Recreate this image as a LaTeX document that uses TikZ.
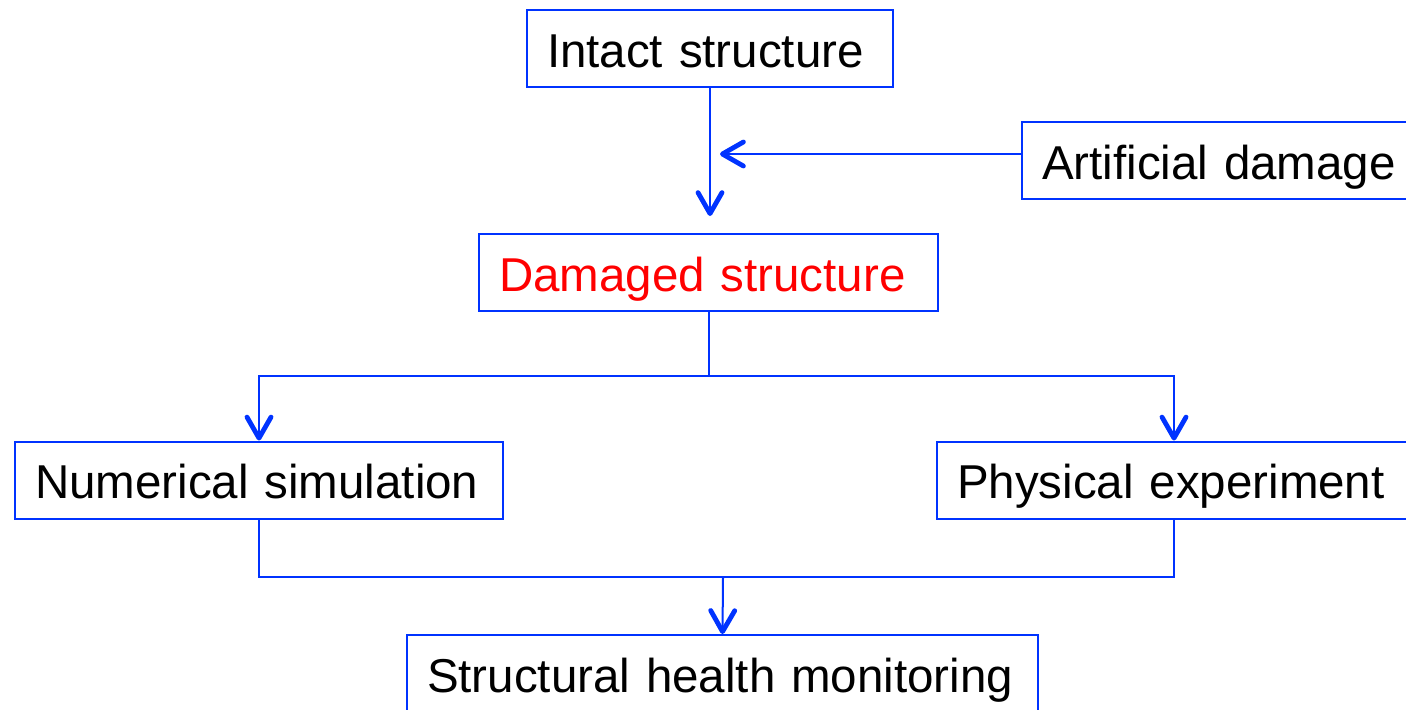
\documentclass[tikz,border=0pt]{standalone}
\usepackage{fontspec}
\setmainfont{Liberation Sans}
\usetikzlibrary{arrows.meta}
\definecolor{lineblue}{RGB}{0,51,255}
\definecolor{dmgred}{RGB}{255,0,0}
\newcommand{\boxstrut}{\rule[-5pt]{0pt}{28.5pt}}
\tikzset{
  box/.style={draw=lineblue, line width=1pt, inner xsep=10pt, inner ysep=0pt,
    minimum height=38.5pt, align=left, execute at begin node=\boxstrut,
    font=\fontsize{23.75}{28}\selectfont},
  link/.style={draw=lineblue, line width=1pt},
  >={Straight Barb[length=10.5pt,width=12pt,line width=2.4pt,round]}
}
\begin{document}
\begin{tikzpicture}[x=0.5pt,y=-0.5pt]
\clip (0,0) rectangle (1406,709);
\useasboundingbox (0,0) rectangle (1406,709);
% boxes
\node[box, text width=163pt] (intact) at (710,48.5) {Intact structure};
\node[box, text width=182pt] (art) at (1224,160.5) {Artificial damage};
\node[box, text width=209.5pt, text=dmgred] (dmg) at (708.5,272.5) {Damaged structure};
\node[box, text width=224pt] (num) at (259,480) {Numerical simulation};
\node[box, text width=220pt] (phys) at (1177,480) {Physical experiment};
\node[box, text width=295.5pt] (shm) at (722.5,673.5) {Structural health monitoring};
% connectors
\coordinate (inlet) at (720,154);
\coordinate (split) at (708.5,376);
\coordinate (merge) at (723,577);
\draw[link,->,shorten >=8.5pt] (intact.south) -- (intact.south |- dmg.north);
\draw[link,->] ([yshift=3.25pt]art.west) -- (inlet);
\draw[link] (dmg.south) -- (split);
\draw[link,->] (split) -| (num.north);
\draw[link,->] (split) -| ([xshift=-1.5pt]phys.north);
\draw[link] (num.south) |- (merge);
\draw[link] (merge) -| ([xshift=-1.5pt]phys.south);
\draw[link,->] (merge) -- (shm.north);
\end{tikzpicture}
\end{document}
